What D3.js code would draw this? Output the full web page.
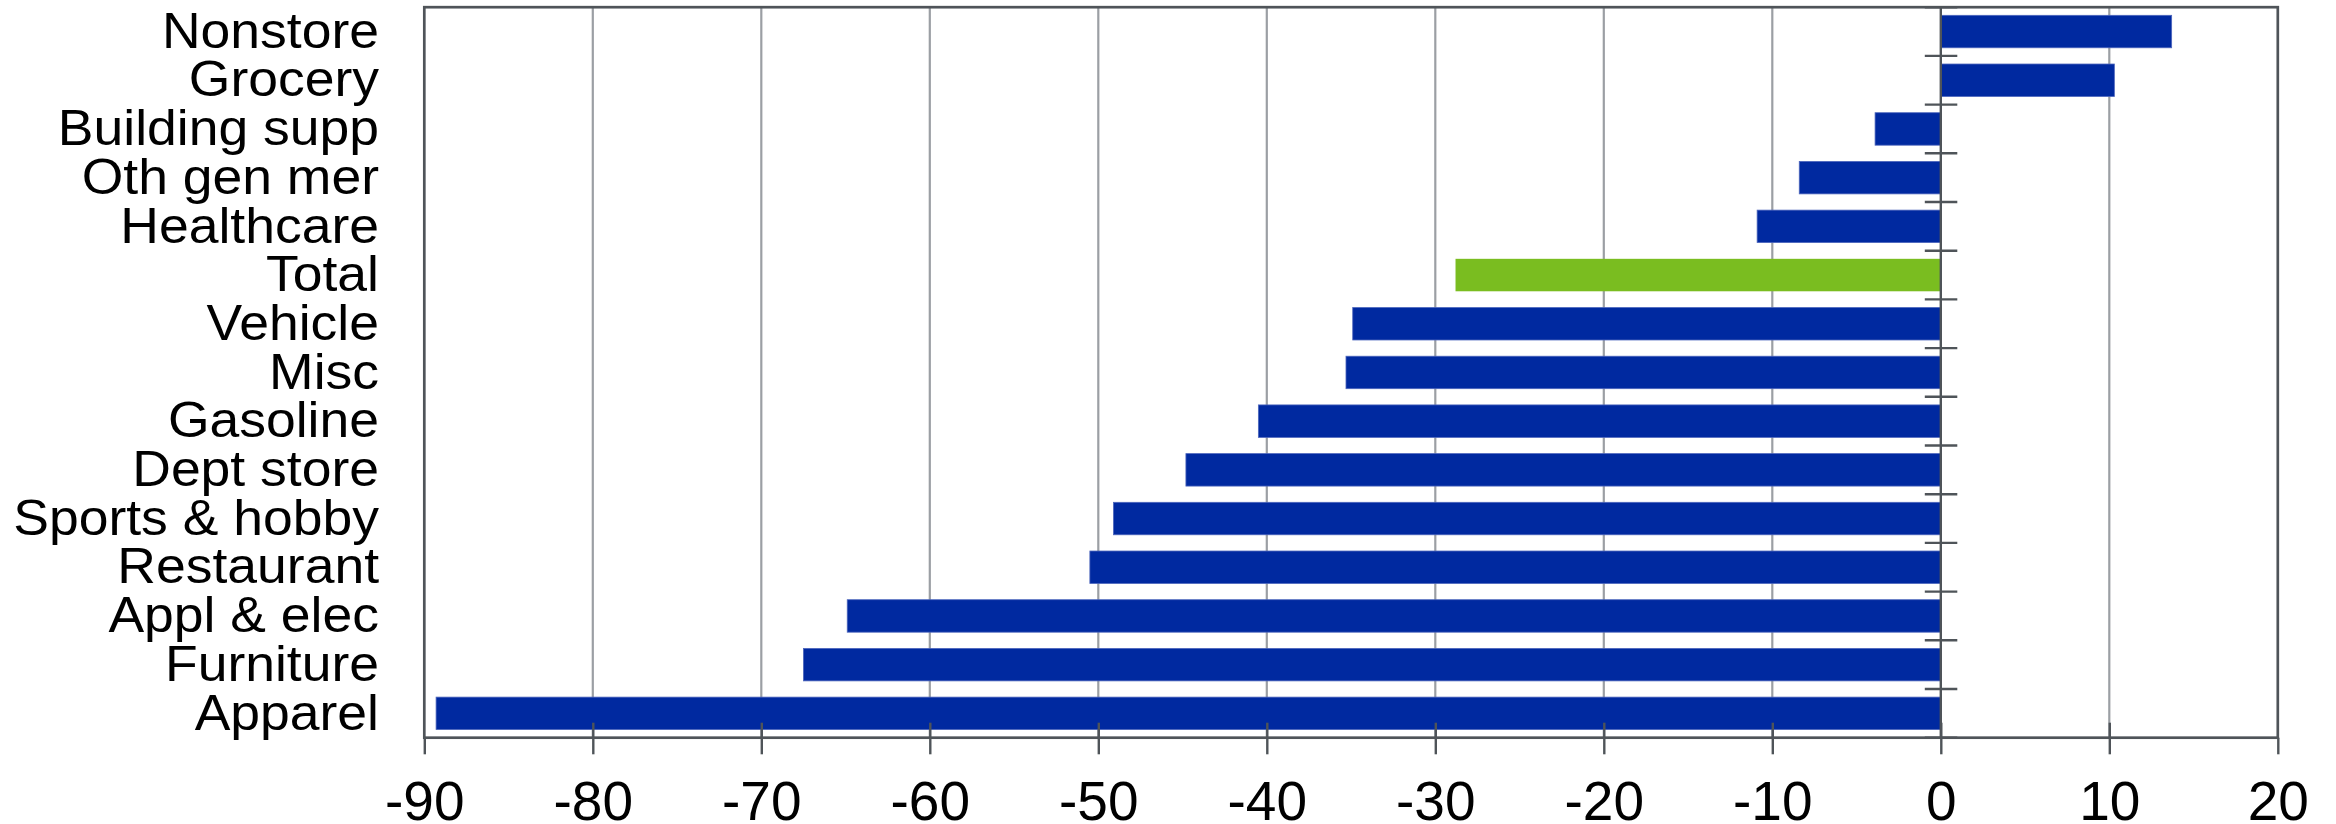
<!DOCTYPE html>
<html>
<head>
<meta charset="utf-8">
<script src="https://cdn.jsdelivr.net/npm/d3@7"></script>
<style>
  html, body { margin: 0; padding: 0; background: #ffffff; }
  svg { display: block; }
  text { font-family: "Liberation Sans", Arial, Helvetica, sans-serif; fill: #000; }
</style>
</head>
<body>
<script>
// Retail categories, top to bottom, and their percentage changes
const categories = [
  "Nonstore", "Grocery", "Building supp", "Oth gen mer", "Healthcare",
  "Total", "Vehicle", "Misc", "Gasoline", "Dept store",
  "Sports & hobby", "Restaurant", "Appl & elec", "Furniture", "Apparel"
];
const values = [
  13.7, 10.3, -3.9, -8.4, -10.9,
  -28.8, -34.9, -35.3, -40.5, -44.8,
  -49.1, -50.5, -64.9, -67.5, -89.3
];
const highlighted = ["Total"];
const xTicks = [-90, -80, -70, -60, -50, -40, -30, -20, -10, 0, 10, 20];

const W = 2336, H = 824;
const plot = { left: 424.3, right: 2277.8, top: 7.2, bottom: 737.7 };
const labelStretch = 1.07;     // category labels are set slightly wide
const frameColor = "#4f5459";
const gridColor = "#9b9fa4";
const barColor = "#0029a0";
const totalColor = "#7abd20";

const rows = categories.map((c, i) => ({ name: c, value: values[i] }));

const svg = d3.select("body").append("svg")
  .attr("width", W).attr("height", H);

const x = d3.scaleLinear().domain([-90, 20]).range([plot.left, plot.right]);
const y = d3.scaleBand().domain(categories)
  .range([plot.top, plot.bottom])
  .paddingInner(1 / 3).paddingOuter(1 / 6);

// vertical gridlines
svg.append("g").selectAll("line")
  .data(xTicks.filter(t => t !== 0 && t !== -90 && t !== 20))
  .join("line")
  .attr("x1", d => x(d)).attr("x2", d => x(d))
  .attr("y1", plot.top).attr("y2", plot.bottom)
  .attr("stroke", gridColor).attr("stroke-width", 2.2);

// bars
svg.append("g").selectAll("rect")
  .data(rows)
  .join("rect")
  .attr("x", d => x(Math.min(0, d.value)))
  .attr("width", d => Math.abs(x(d.value) - x(0)))
  .attr("y", d => y(d.name))
  .attr("height", y.bandwidth())
  .attr("fill", d => highlighted.includes(d.name) ? totalColor : barColor)
  .attr("stroke", d => highlighted.includes(d.name) ? "none" : "#4d66bd")
  .attr("stroke-width", 0.8);

// zero line with category separators
const gap = (y.step() - y.bandwidth()) / 2;
const boundaries = categories.map(c => y(c) - gap).concat([plot.bottom]);
svg.append("line")
  .attr("x1", x(0)).attr("x2", x(0))
  .attr("y1", plot.top).attr("y2", plot.bottom)
  .attr("stroke", frameColor).attr("stroke-width", 2.4);
svg.append("g").selectAll("line")
  .data(boundaries)
  .join("line")
  .attr("x1", x(0) - 16).attr("x2", x(0) + 16.5)
  .attr("y1", d => d).attr("y2", d => d)
  .attr("stroke", frameColor).attr("stroke-width", 2.4);

// plot frame
svg.append("rect")
  .attr("x", plot.left).attr("y", plot.top)
  .attr("width", plot.right - plot.left)
  .attr("height", plot.bottom - plot.top)
  .attr("fill", "none")
  .attr("stroke", frameColor).attr("stroke-width", 2.7);

// bottom axis: ticks crossing the axis line
const xAxis = svg.append("g")
  .attr("transform", `translate(0,${plot.bottom})`)
  .call(d3.axisBottom(x).tickValues(xTicks).tickSize(16.6).tickFormat(d3.format("d")));
xAxis.select(".domain").remove();
xAxis.selectAll(".tick line")
  .attr("y1", d => (d === -90 || d === 20) ? 0 : -15)
  .attr("y2", 16.6)
  .attr("stroke", frameColor).attr("stroke-width", 2.4);
xAxis.selectAll(".tick text")
  .attr("y", 82).attr("dy", null)
  .attr("font-size", 55)
  .attr("fill", "#000")
  .text(d => d < 0 ? "-" + Math.abs(d) : String(d));

// category labels
const yAxis = svg.append("g")
  .attr("transform", "translate(379,0)")
  .call(d3.axisLeft(y).tickSize(0).tickPadding(0));
yAxis.select(".domain").remove();
yAxis.selectAll(".tick line").remove();
yAxis.selectAll(".tick text")
  .attr("x", 0).attr("dy", null).attr("y", 16.2)
  .attr("font-size", 50)
  .attr("fill", "#000")
  .attr("transform", `scale(${labelStretch},1)`);
</script>
</body>
</html>
